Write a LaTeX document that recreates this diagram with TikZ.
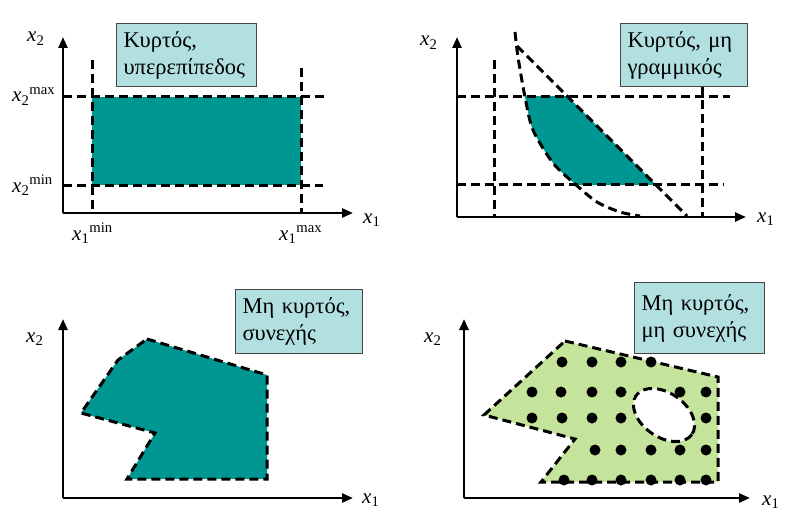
\documentclass[tikz,border=0pt]{standalone}
\usepackage{fontspec}
\setmainfont{Liberation Serif}
\usetikzlibrary{arrows.meta}
\definecolor{tealfill}{RGB}{0,151,146}
\definecolor{boxfill}{RGB}{178,224,224}
\definecolor{boxline}{RGB}{70,70,70}
\definecolor{greenfill}{RGB}{197,228,155}
\tikzset{
  axis/.style={line width=2.6pt, -{Triangle[length=11pt,width=9pt]}},
  dashline/.style={line width=3pt, dash pattern=on 9pt off 5pt},
  labelbox/.style={draw=boxline, line width=1pt, fill=boxfill, anchor=north west,
    align=left, inner xsep=7pt, inner ysep=0pt,
    font=\fontsize{22.5}{27}\selectfont},
  axlabel/.style={anchor=base west, inner sep=0pt, font=\fontsize{21}{21}\selectfont},
  dot/.style={circle, fill=black, inner sep=0pt, minimum size=11pt}
}
\newcommand{\axx}[1]{\textit{x}\textsubscript{#1}}
\begin{document}
\begin{tikzpicture}[x=1pt,y=-1pt]
\useasboundingbox (0,0) rectangle (804,519);

% ---------------- Panel 1 ----------------
\coordinate (o1) at (63,213);
\coordinate (t1y) at (63,37);
\coordinate (t1x) at (353,213);
\fill[tealfill] (92,97) rectangle (301,185);
\draw[dashline] (92,60) -- (92,213);
\draw[dashline] (301,68) -- (301,213);
\draw[dashline] (63,97) -- (328,97);
\draw[dashline] (63,185) -- (323,185);
\draw[axis] (o1) -- (t1y);
\draw[axis] (o1) -- (t1x);
\node[labelbox, minimum width=140pt, minimum height=63pt, text width=126pt] (b1) at (116,23) {Κυρτός,\\υπερεπίπεδος};
\node[axlabel] (l1y) at (27,42) {\axx{2}};
\node[axlabel] (l1x) at (363,223) {\axx{1}};
\node[axlabel] (l1a) at (12,102) {\axx{2}\textsuperscript{max}};
\node[axlabel] (l1b) at (12,192) {\axx{2}\textsuperscript{min}};
\node[axlabel] (l1c) at (72,240) {\axx{1}\textsuperscript{min}};
\node[axlabel] (l1d) at (279,240) {\axx{1}\textsuperscript{max}};

% ---------------- Panel 2 ----------------
\coordinate (o2) at (457,217);
\coordinate (t2y) at (457,37);
\coordinate (t2x) at (746,217);
\begin{scope}
  \clip (457,97) rectangle (730,184);
  \fill[tealfill] plot[smooth] coordinates {(515,32) (518,57) (525,97) (533,130) (553,163) (575,184) (597,202) (620,212) (640,216)}
     -- (687,216) -- (517,46) -- cycle;
\end{scope}
\draw[dashline] (494,60) -- (494,217);
\draw[dashline] (702,86) -- (702,217);
\draw[dashline] (457,97) -- (730,97);
\draw[dashline] (457,184) -- (724,184);
\draw[dashline] plot[smooth] coordinates {(515,32) (518,57) (525,97) (533,130) (553,163) (575,184) (597,202) (620,212) (640,216)};
\draw[dashline] (517,46) -- (687,216);
\draw[axis] (o2) -- (t2y);
\draw[axis] (o2) -- (t2x);
\node[labelbox, minimum width=127pt, minimum height=63pt, text width=113pt] (b2) at (620,23) {Κυρτός, μη\\γραμμικός};
\node[axlabel] (l2y) at (420,46) {\axx{2}};
\node[axlabel] (l2x) at (757,222) {\axx{1}};

% ---------------- Panel 3 ----------------
\coordinate (o3) at (63,498);
\coordinate (t3y) at (63,319);
\coordinate (t3x) at (353,498);
\fill[tealfill] (147,339) -- (267,375) -- (267,479) -- (127,479) -- (155,433) -- (81,413) -- (118,360) -- cycle;
\draw[dashline] (147,339) -- (267,375) -- (267,479) -- (127,479) -- (155,433) -- (81,413) -- (118,360) -- cycle;
\draw[axis] (o3) -- (t3y);
\draw[axis] (o3) -- (t3x);
\node[labelbox, minimum width=127pt, minimum height=64pt, text width=113pt] (b3) at (235,289) {Μη κυρτός,\\συνεχής};
\node[axlabel] (l3y) at (26,342) {\axx{2}};
\node[axlabel] (l3x) at (362,503) {\axx{1}};

% ---------------- Panel 4 ----------------
\coordinate (o4) at (464,498);
\coordinate (t4y) at (464,319);
\coordinate (t4x) at (750,498);
\fill[greenfill] (565,341) -- (718,377) -- (718,482) -- (541,482) -- (575,439) -- (484,415) -- cycle;
\draw[dashline] (565,341) -- (718,377) -- (718,482) -- (541,482) -- (575,439) -- (484,415) -- cycle;
\filldraw[fill=white, dashline, shift={(664,415)}, rotate=-35] (0,0) ellipse [x radius=34, y radius=22];
\draw[axis] (o4) -- (t4y);
\draw[axis] (o4) -- (t4x);
\node[labelbox, minimum width=130pt, minimum height=71pt, text width=116pt] (b4) at (634,282) {Μη κυρτός,\\μη συνεχής};
\node[axlabel] (l4y) at (424,342) {\axx{2}};
\node[axlabel] (l4x) at (762,505) {\axx{1}};
% dots
\foreach \x [count=\i] in {562,592,621,651} \node[dot] (da\i) at (\x,362) {};
\foreach \x [count=\i] in {532,561,592,621,680,706} \node[dot] (db\i) at (\x,392) {};
\foreach \x [count=\i] in {532,562,592,621,706} \node[dot] (dc\i) at (\x,418) {};
\foreach \x [count=\i] in {595,621,651,680,706} \node[dot] (dd\i) at (\x,450) {};
\foreach \x [count=\i] in {564,592,621,651,680,706} \node[dot] (de\i) at (\x,480) {};
\end{tikzpicture}
\end{document}
